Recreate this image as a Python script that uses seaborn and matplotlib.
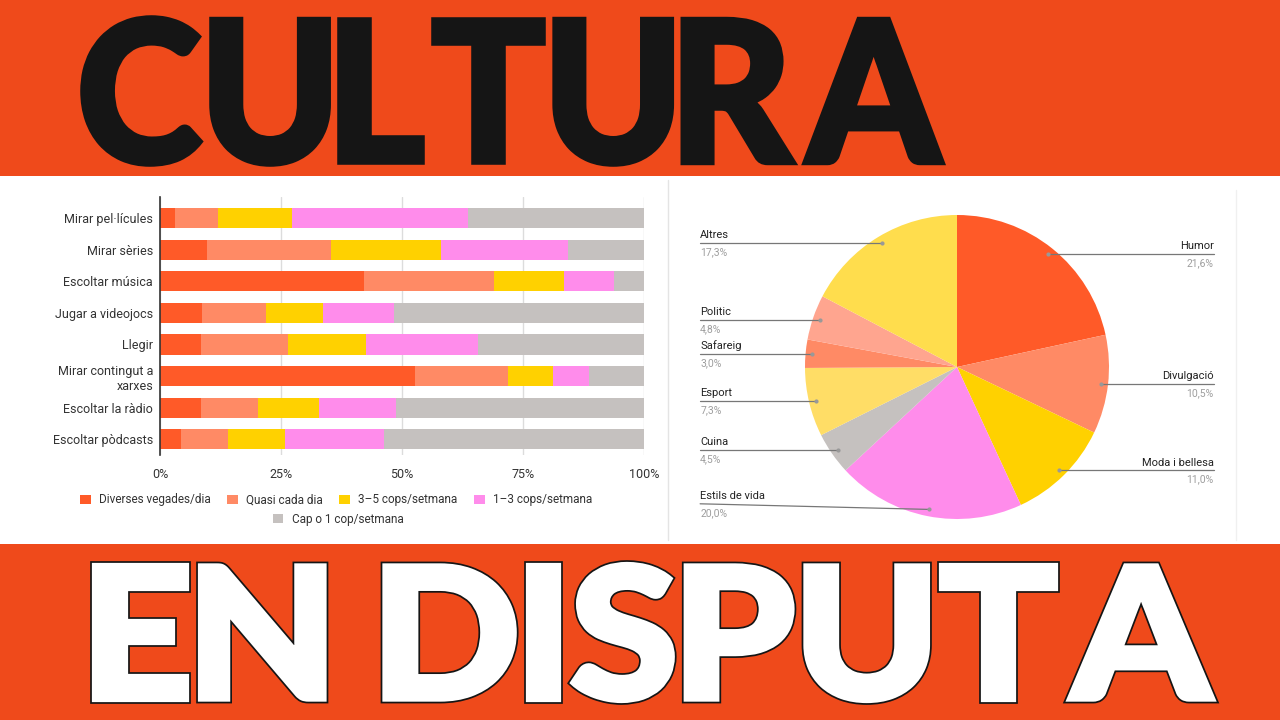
import numpy as np
import pandas as pd
import matplotlib
matplotlib.use("Agg")
import matplotlib.pyplot as plt
import seaborn as sns
from matplotlib.textpath import TextPath
from matplotlib.patches import PathPatch, Patch, Rectangle
from matplotlib.font_manager import FontProperties
from matplotlib.transforms import Affine2D

# --- data -------------------------------------------------------------
activities = ["Mirar pel·lícules", "Mirar sèries", "Escoltar música",
              "Jugar a videojocs", "Llegir", "Mirar contingut a\nxarxes",
              "Escoltar la ràdio", "Escoltar pòdcasts"]
freq_labels = ["Diverses vegades/dia", "Quasi cada dia", "3–5 cops/setmana",
               "1–3 cops/setmana", "Cap o 1 cop/setmana"]
diverses = [3.1, 9.8, 42.2, 8.6, 8.5, 52.6, 8.5, 4.3]
quasi = [8.9, 25.5, 26.9, 13.3, 18.0, 19.4, 11.8, 9.7]
cops_3_5 = [15.2, 22.7, 14.4, 11.8, 16.1, 9.2, 12.6, 11.8]
cops_1_3 = [36.5, 26.4, 10.3, 14.6, 23.1, 7.5, 15.9, 20.5]
cap = [36.3, 15.6, 6.2, 51.7, 34.3, 11.3, 51.2, 53.7]
freq_colors = ["#FF5A28", "#FF8A65", "#FFD100", "#FF8CEB", "#C5C1BF"]

topics = ["Humor", "Divulgació", "Moda i bellesa", "Estils de vida", "Cuina",
          "Esport", "Safareig", "Politic", "Altres"]
topic_share = [21.6, 10.5, 11.0, 20.0, 4.5, 7.3, 3.0, 4.8, 17.3]
topic_colors = ["#FF5A28", "#FF8A65", "#FFD100", "#FF8CEB", "#C5C1BF",
                "#FFDD66", "#FF8A65", "#FFA58F", "#FFDD4D"]

ORANGE = "#EF4A1B"

sns.set_theme(style="white")
plt.rcParams["font.family"] = ["Roboto", "DejaVu Sans"]

fig = plt.figure(figsize=(12.8, 7.2), dpi=100)
fig.patch.set_facecolor("white")

# background layer in pixel coordinates (y down)
bg = fig.add_axes([0, 0, 1, 1], zorder=0)
bg.set_xlim(0, 1280)
bg.set_ylim(720, 0)
bg.axis("off")
bg.add_patch(Rectangle((0, 0), 1280, 176, color=ORANGE, lw=0))
bg.add_patch(Rectangle((0, 544), 1280, 176, color=ORANGE, lw=0))
bg.plot([668, 668], [180, 540], color="#e4e4e4", lw=1)
bg.plot([1236, 1236], [190, 540], color="#f0f0f0", lw=1)


def fitted_text(txt, box, gap, space, layers):
    # lay the glyphs out one by one so they fill the box without touching
    fp = FontProperties(family=["Lato", "DejaVu Sans"], weight=900)
    glyphs = [(ch, TextPath((0, 0), ch, size=100, prop=fp)) for ch in txt if ch != " "]
    exts = {ch: p.get_extents() for ch, p in glyphs}
    ymin = min(e.y0 for e in exts.values())
    ymax = max(e.y1 for e in exts.values())
    x0, y0, x1, y1 = box
    n_space = txt.count(" ")
    total_gap = gap * (len(glyphs) - 1 - n_space) + space * n_space
    sx = (x1 - x0 - total_gap) / sum(exts[ch].width for ch, _ in glyphs)
    sy = (y1 - y0) / (ymax - ymin)
    cursor = x0
    gi = 0
    for ch in txt:
        if ch == " ":
            cursor += space - gap
            continue
        path = glyphs[gi][1]
        gi += 1
        e = exts[ch]
        tr = Affine2D().translate(-e.x0, -ymin).scale(sx, -sy).translate(cursor, y1)
        tp = tr.transform_path(path)
        for face, edge, lw, z in layers:
            bg.add_patch(PathPatch(tp, facecolor=face, edgecolor=edge, lw=lw,
                                   zorder=z, joinstyle="miter"))
        cursor += e.width * sx + gap


fitted_text("CULTURA", (83, 18, 942, 164), 12, 0,
            [("#151515", "#151515", 4, 2)])
fitted_text("EN DISPUTA", (95, 565, 1212, 700), 15, 62,
            [("white", "#151515", 7, 2), ("white", "white", 4.5, 3)])

# --- stacked bar chart -------------------------------------------------
df = pd.DataFrame({"activitat": activities, freq_labels[0]: diverses,
                   freq_labels[1]: quasi, freq_labels[2]: cops_3_5,
                   freq_labels[3]: cops_1_3, freq_labels[4]: cap})
cum = df[freq_labels].cumsum(axis=1)
cum["activitat"] = df["activitat"]

ax = fig.add_axes([160 / 1280, 1 - 455 / 720, 484 / 1280, 258 / 720], zorder=2)
for lab, col in reversed(list(zip(freq_labels, freq_colors))):
    sns.barplot(data=cum, x=lab, y="activitat", orient="h", color=col,
                saturation=1, width=0.64, ax=ax, linewidth=0, zorder=3)
ax.set_xlim(0, 100)
ax.set_ylim(7.5, -0.67)
ax.set_xticks([0, 25, 50, 75, 100])
ax.set_xticklabels(["0%", "25%", "50%", "75%", "100%"])
ax.set_xlabel("")
ax.set_ylabel("")
ax.grid(axis="x", color="#dcdcdc", lw=1, zorder=0)
ax.grid(axis="y", visible=False)
for s in ["top", "right", "bottom"]:
    ax.spines[s].set_visible(False)
ax.spines["left"].set_color("#333333")
ax.spines["left"].set_linewidth(1.2)
ax.spines["left"].set_zorder(5)
ax.tick_params(axis="both", length=0, labelsize=9, colors="#333333")
ax.tick_params(axis="y", pad=5)
ax.tick_params(axis="x", pad=9)
ax.set_facecolor("none")

handles = [Patch(facecolor=c, edgecolor="none") for c in freq_colors]
leg_kw = dict(frameon=False, fontsize=8.5, handlelength=0.9, handleheight=0.9,
              handletextpad=0.7, columnspacing=1.4, labelcolor="#333333")
fig.legend(handles[:4], freq_labels[:4], loc="center", ncol=4,
           bbox_to_anchor=(336 / 1280, 1 - 500 / 720), **leg_kw)
fig.legend(handles[4:], freq_labels[4:], loc="center", ncol=1,
           bbox_to_anchor=(338 / 1280, 1 - 519 / 720), **leg_kw)

# --- pie chart -----------------------------------------------------------
pa = fig.add_axes([805 / 1280, (720 - 367 - 152) / 720, 304 / 1280, 304 / 720], zorder=2)
wedges, _ = pa.pie(topic_share, colors=topic_colors, startangle=90,
                   counterclock=False, radius=1, wedgeprops=dict(linewidth=0))
pa.set_xlim(-1, 1)
pa.set_ylim(-1, 1)

for w, name, share in zip(wedges, topics, topic_share):
    mid = np.deg2rad((w.theta1 + w.theta2) / 2)
    axx, axy = 0.955 * np.cos(mid), 0.955 * np.sin(mid)
    lx = 1.69 if axx > 0 else -1.69
    ha = "right" if axx > 0 else "left"
    ly = max(axy, -0.90)
    pa.plot([lx, axx], [ly, axy], color="#777777", lw=0.9, clip_on=False)
    pa.plot([axx], [axy], "o", ms=2, color="#999999", clip_on=False)
    pa.annotate(name, (lx, ly), xytext=(0, 2), textcoords="offset points",
                ha=ha, va="bottom", fontsize=8, color="#222222",
                annotation_clip=False)
    pa.annotate(f"{share:.1f}%".replace(".", ","), (lx, ly), xytext=(0, -3),
                textcoords="offset points", ha=ha, va="top", fontsize=7.5,
                color="#9e9e9e", annotation_clip=False)

fig.savefig("out.png", dpi=100, facecolor="white")
